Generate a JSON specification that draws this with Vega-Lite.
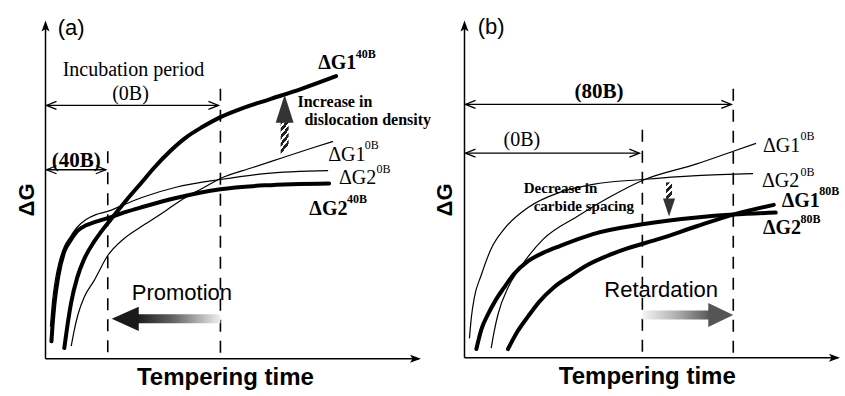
{
  "$schema": "https://vega.github.io/schema/vega-lite/v6.json",
  "width": 845,
  "height": 396,
  "autosize": {"type": "fit", "contains": "padding"},
  "padding": 0,
  "background": "white",
  "config": {"view": {"stroke": null}},
  "datasets": {
    "curves": [
      {"c": "a_G1_40B", "w": "thick", "x": 60, "y": 352}, {"c": "a_G1_40B", "w": "thick", "x": 63, "y": 330}, {"c": "a_G1_40B", "w": "thick", "x": 67, "y": 305}, {"c": "a_G1_40B", "w": "thick", "x": 73, "y": 280}, {"c": "a_G1_40B", "w": "thick", "x": 80, "y": 261}, {"c": "a_G1_40B", "w": "thick", "x": 90, "y": 243}, {"c": "a_G1_40B", "w": "thick", "x": 97, "y": 233}, {"c": "a_G1_40B", "w": "thick", "x": 107, "y": 220}, {"c": "a_G1_40B", "w": "thick", "x": 123, "y": 200}, {"c": "a_G1_40B", "w": "thick", "x": 140, "y": 180}, {"c": "a_G1_40B", "w": "thick", "x": 150, "y": 168}, {"c": "a_G1_40B", "w": "thick", "x": 167, "y": 150}, {"c": "a_G1_40B", "w": "thick", "x": 183, "y": 136}, {"c": "a_G1_40B", "w": "thick", "x": 200, "y": 125}, {"c": "a_G1_40B", "w": "thick", "x": 218, "y": 115}, {"c": "a_G1_40B", "w": "thick", "x": 240, "y": 106}, {"c": "a_G1_40B", "w": "thick", "x": 267, "y": 97}, {"c": "a_G1_40B", "w": "thick", "x": 300, "y": 86}, {"c": "a_G1_40B", "w": "thick", "x": 335, "y": 73},
      {"c": "a_G2_40B", "w": "thick", "x": 47, "y": 345}, {"c": "a_G2_40B", "w": "thick", "x": 48, "y": 330}, {"c": "a_G2_40B", "w": "thick", "x": 50, "y": 307}, {"c": "a_G2_40B", "w": "thick", "x": 54, "y": 278}, {"c": "a_G2_40B", "w": "thick", "x": 60, "y": 253}, {"c": "a_G2_40B", "w": "thick", "x": 66, "y": 242}, {"c": "a_G2_40B", "w": "thick", "x": 73, "y": 232}, {"c": "a_G2_40B", "w": "thick", "x": 82, "y": 226}, {"c": "a_G2_40B", "w": "thick", "x": 90, "y": 223}, {"c": "a_G2_40B", "w": "thick", "x": 103, "y": 219}, {"c": "a_G2_40B", "w": "thick", "x": 120, "y": 213}, {"c": "a_G2_40B", "w": "thick", "x": 140, "y": 207}, {"c": "a_G2_40B", "w": "thick", "x": 173, "y": 198}, {"c": "a_G2_40B", "w": "thick", "x": 218, "y": 189}, {"c": "a_G2_40B", "w": "thick", "x": 263, "y": 185}, {"c": "a_G2_40B", "w": "thick", "x": 328, "y": 183},
      {"c": "a_G2_0B", "w": "thin", "x": 46, "y": 330}, {"c": "a_G2_0B", "w": "thin", "x": 48, "y": 305}, {"c": "a_G2_0B", "w": "thin", "x": 51, "y": 282}, {"c": "a_G2_0B", "w": "thin", "x": 55, "y": 263}, {"c": "a_G2_0B", "w": "thin", "x": 60, "y": 248}, {"c": "a_G2_0B", "w": "thin", "x": 66, "y": 238}, {"c": "a_G2_0B", "w": "thin", "x": 73, "y": 228}, {"c": "a_G2_0B", "w": "thin", "x": 82, "y": 220}, {"c": "a_G2_0B", "w": "thin", "x": 92, "y": 215}, {"c": "a_G2_0B", "w": "thin", "x": 103, "y": 212}, {"c": "a_G2_0B", "w": "thin", "x": 120, "y": 205}, {"c": "a_G2_0B", "w": "thin", "x": 140, "y": 197}, {"c": "a_G2_0B", "w": "thin", "x": 173, "y": 187}, {"c": "a_G2_0B", "w": "thin", "x": 218, "y": 179}, {"c": "a_G2_0B", "w": "thin", "x": 263, "y": 173}, {"c": "a_G2_0B", "w": "thin", "x": 327, "y": 170},
      {"c": "a_G1_0B", "w": "thin", "x": 67, "y": 350}, {"c": "a_G1_0B", "w": "thin", "x": 70, "y": 334}, {"c": "a_G1_0B", "w": "thin", "x": 74, "y": 317}, {"c": "a_G1_0B", "w": "thin", "x": 80, "y": 300}, {"c": "a_G1_0B", "w": "thin", "x": 90, "y": 283}, {"c": "a_G1_0B", "w": "thin", "x": 104, "y": 257}, {"c": "a_G1_0B", "w": "thin", "x": 120, "y": 240}, {"c": "a_G1_0B", "w": "thin", "x": 140, "y": 226}, {"c": "a_G1_0B", "w": "thin", "x": 160, "y": 213}, {"c": "a_G1_0B", "w": "thin", "x": 180, "y": 199}, {"c": "a_G1_0B", "w": "thin", "x": 200, "y": 188}, {"c": "a_G1_0B", "w": "thin", "x": 218, "y": 178}, {"c": "a_G1_0B", "w": "thin", "x": 250, "y": 167}, {"c": "a_G1_0B", "w": "thin", "x": 280, "y": 157}, {"c": "a_G1_0B", "w": "thin", "x": 310, "y": 147}, {"c": "a_G1_0B", "w": "thin", "x": 332, "y": 140},
      {"c": "b_G2_0B", "w": "thin", "x": 470, "y": 342}, {"c": "b_G2_0B", "w": "thin", "x": 472, "y": 320}, {"c": "b_G2_0B", "w": "thin", "x": 475, "y": 300}, {"c": "b_G2_0B", "w": "thin", "x": 482, "y": 277}, {"c": "b_G2_0B", "w": "thin", "x": 492, "y": 250}, {"c": "b_G2_0B", "w": "thin", "x": 505, "y": 230}, {"c": "b_G2_0B", "w": "thin", "x": 529, "y": 208}, {"c": "b_G2_0B", "w": "thin", "x": 562, "y": 192}, {"c": "b_G2_0B", "w": "thin", "x": 595, "y": 184}, {"c": "b_G2_0B", "w": "thin", "x": 645, "y": 179}, {"c": "b_G2_0B", "w": "thin", "x": 700, "y": 175}, {"c": "b_G2_0B", "w": "thin", "x": 757, "y": 173},
      {"c": "b_G1_0B", "w": "thin", "x": 492, "y": 352}, {"c": "b_G1_0B", "w": "thin", "x": 495, "y": 335}, {"c": "b_G1_0B", "w": "thin", "x": 499, "y": 317}, {"c": "b_G1_0B", "w": "thin", "x": 509, "y": 290}, {"c": "b_G1_0B", "w": "thin", "x": 519, "y": 273}, {"c": "b_G1_0B", "w": "thin", "x": 545, "y": 240}, {"c": "b_G1_0B", "w": "thin", "x": 579, "y": 217}, {"c": "b_G1_0B", "w": "thin", "x": 612, "y": 197}, {"c": "b_G1_0B", "w": "thin", "x": 645, "y": 180}, {"c": "b_G1_0B", "w": "thin", "x": 700, "y": 163}, {"c": "b_G1_0B", "w": "thin", "x": 737, "y": 150}, {"c": "b_G1_0B", "w": "thin", "x": 760, "y": 142},
      {"c": "b_G2_80B", "w": "thick", "x": 477, "y": 353}, {"c": "b_G2_80B", "w": "thick", "x": 482, "y": 333}, {"c": "b_G2_80B", "w": "thick", "x": 489, "y": 317}, {"c": "b_G2_80B", "w": "thick", "x": 497, "y": 302}, {"c": "b_G2_80B", "w": "thick", "x": 505, "y": 290}, {"c": "b_G2_80B", "w": "thick", "x": 515, "y": 276}, {"c": "b_G2_80B", "w": "thick", "x": 529, "y": 263}, {"c": "b_G2_80B", "w": "thick", "x": 545, "y": 254}, {"c": "b_G2_80B", "w": "thick", "x": 562, "y": 247}, {"c": "b_G2_80B", "w": "thick", "x": 595, "y": 235}, {"c": "b_G2_80B", "w": "thick", "x": 645, "y": 225}, {"c": "b_G2_80B", "w": "thick", "x": 700, "y": 218}, {"c": "b_G2_80B", "w": "thick", "x": 737, "y": 215}, {"c": "b_G2_80B", "w": "thick", "x": 780, "y": 213},
      {"c": "b_G1_80B", "w": "thick", "x": 509, "y": 353}, {"c": "b_G1_80B", "w": "thick", "x": 518, "y": 336}, {"c": "b_G1_80B", "w": "thick", "x": 529, "y": 320}, {"c": "b_G1_80B", "w": "thick", "x": 541, "y": 304}, {"c": "b_G1_80B", "w": "thick", "x": 555, "y": 290}, {"c": "b_G1_80B", "w": "thick", "x": 572, "y": 278}, {"c": "b_G1_80B", "w": "thick", "x": 589, "y": 267}, {"c": "b_G1_80B", "w": "thick", "x": 608, "y": 258}, {"c": "b_G1_80B", "w": "thick", "x": 629, "y": 250}, {"c": "b_G1_80B", "w": "thick", "x": 662, "y": 240}, {"c": "b_G1_80B", "w": "thick", "x": 700, "y": 227}, {"c": "b_G1_80B", "w": "thick", "x": 737, "y": 215}, {"c": "b_G1_80B", "w": "thick", "x": 778, "y": 205}
    ],
    "segs": [
      {"k": "axis", "x": 41, "y": 363, "x2": 41, "y2": 20},
      {"k": "axis", "x": 41, "y": 363, "x2": 419, "y2": 363},
      {"k": "axis", "x": 465, "y": 362, "x2": 465, "y2": 20},
      {"k": "axis", "x": 465, "y": 362, "x2": 843, "y2": 362},
      {"k": "dash", "x": 104, "y": 150, "x2": 104, "y2": 363},
      {"k": "dash", "x": 218, "y": 86, "x2": 218, "y2": 363},
      {"k": "dash", "x": 645, "y": 128, "x2": 645, "y2": 362},
      {"k": "dash", "x": 737, "y": 86, "x2": 737, "y2": 362},
      {"k": "dim", "x": 42, "y": 103, "x2": 216, "y2": 103},
      {"k": "dim", "x": 42, "y": 169, "x2": 102, "y2": 169},
      {"k": "dim", "x": 466, "y": 102, "x2": 735, "y2": 102},
      {"k": "dim", "x": 466, "y": 152, "x2": 642, "y2": 152}
    ],
    "heads": [
      {"k": "dimL", "x": 42, "y": 103}, {"k": "dimL", "x": 42, "y": 169}, {"k": "dimL", "x": 466, "y": 102}, {"k": "dimL", "x": 466, "y": 152},
      {"k": "dimR", "x": 216, "y": 103}, {"k": "dimR", "x": 102, "y": 169}, {"k": "dimR", "x": 735, "y": 102}, {"k": "dimR", "x": 642, "y": 152},
      {"k": "axU", "x": 41, "y": 16}, {"k": "axU", "x": 465, "y": 16},
      {"k": "axR", "x": 421, "y": 363}, {"k": "axR", "x": 845, "y": 362},
      {"k": "bigL", "x": 108, "y": 322},
      {"k": "bigR", "x": 737, "y": 318},
      {"k": "up", "x": 283, "y": 92},
      {"k": "down", "x": 672, "y": 217}
    ],
    "shafts": [
      {"k": "promo", "x": 133, "x2": 218, "y": 322},
      {"k": "retard", "x": 645, "x2": 714, "y": 318},
      {"k": "up", "x": 283, "y": 119, "y2": 153},
      {"k": "down", "x": 672, "y": 182, "y2": 202}
    ],
    "labels": [
      {"s": "sans", "t": "(a)", "x": 67, "y": 24},
      {"s": "sans", "t": "(b)", "x": 492, "y": 23},
      {"s": "sans", "t": "Promotion", "x": 179, "y": 295},
      {"s": "sans", "t": "Retardation", "x": 664, "y": 292},
      {"s": "axt", "t": "Tempering time", "x": 223, "y": 383},
      {"s": "axt", "t": "Tempering time", "x": 650, "y": 382},
      {"s": "dg", "t": "ΔG", "x": 22, "y": 200},
      {"s": "dg", "t": "ΔG", "x": 445, "y": 200},
      {"s": "serifC", "t": "Incubation period", "x": 130, "y": 67},
      {"s": "serifC", "t": "(0B)", "x": 127, "y": 91},
      {"s": "serifC", "t": "(0B)", "x": 523, "y": 138},
      {"s": "serifL", "t": "ΔG1", "x": 327, "y": 160},
      {"s": "serifL", "t": "ΔG2", "x": 338, "y": 184},
      {"s": "serifL", "t": "ΔG1", "x": 767, "y": 151},
      {"s": "serifL", "t": "ΔG2", "x": 766, "y": 187},
      {"s": "serifSup", "t": "0B", "x": 364, "y": 148},
      {"s": "serifSup", "t": "0B", "x": 376, "y": 172},
      {"s": "serifSup", "t": "0B", "x": 805, "y": 139},
      {"s": "serifSup", "t": "0B", "x": 805, "y": 175},
      {"s": "boldC", "t": "(40B)", "x": 72, "y": 160},
      {"s": "boldC", "t": "(80B)", "x": 601, "y": 89},
      {"s": "boldL", "t": "ΔG1", "x": 317, "y": 66},
      {"s": "boldL", "t": "ΔG2", "x": 308, "y": 215},
      {"s": "boldL", "t": "ΔG1", "x": 786, "y": 207},
      {"s": "boldL", "t": "ΔG2", "x": 767, "y": 235},
      {"s": "boldSup", "t": "40B", "x": 355, "y": 54},
      {"s": "boldSup", "t": "40B", "x": 346, "y": 203},
      {"s": "boldSup", "t": "80B", "x": 824, "y": 195},
      {"s": "boldSup", "t": "80B", "x": 805, "y": 224},
      {"s": "note18", "t": "Increase in", "x": 296, "y": 100},
      {"s": "note18", "t": "dislocation density", "x": 303, "y": 118},
      {"s": "note17", "t": "Decrease in", "x": 525, "y": 188},
      {"s": "note17", "t": "carbide spacing", "x": 535, "y": 206}
    ]
  },
  "encoding": {
    "x": {"field": "x", "type": "quantitative", "scale": {"domain": [0, 845], "nice": false, "zero": false}, "axis": null},
    "y": {"field": "y", "type": "quantitative", "scale": {"domain": [0, 396], "reverse": true, "nice": false, "zero": false}, "axis": null}
  },
  "layer": [
    {
      "data": {"name": "segs"},
      "transform": [{"filter": "datum.k === 'dash'"}],
      "mark": {"type": "rule", "color": "black", "strokeWidth": 1.6, "strokeDash": [12, 9]},
      "encoding": {"x2": {"field": "x2"}, "y2": {"field": "y2"}}
    },
    {
      "data": {"name": "segs"},
      "transform": [{"filter": "datum.k === 'axis'"}],
      "mark": {"type": "rule", "color": "black", "strokeWidth": 1.5},
      "encoding": {"x2": {"field": "x2"}, "y2": {"field": "y2"}}
    },
    {
      "data": {"name": "segs"},
      "transform": [{"filter": "datum.k === 'dim'"}],
      "mark": {"type": "rule", "color": "black", "strokeWidth": 1.3},
      "encoding": {"x2": {"field": "x2"}, "y2": {"field": "y2"}}
    },
    {
      "data": {"name": "curves"},
      "transform": [{"filter": "datum.w === 'thin'"}],
      "mark": {"type": "line", "interpolate": "monotone", "color": "black", "strokeWidth": 1.2},
      "encoding": {"detail": {"field": "c", "type": "nominal"}}
    },
    {
      "data": {"name": "curves"},
      "transform": [{"filter": "datum.w === 'thick'"}],
      "mark": {"type": "line", "interpolate": "monotone", "color": "black", "strokeWidth": 4, "strokeCap": "round"},
      "encoding": {"detail": {"field": "c", "type": "nominal"}}
    },
    {
      "data": {"name": "shafts"},
      "transform": [{"filter": "datum.k === 'promo'"}],
      "mark": {"type": "bar", "orient": "horizontal", "height": 9,
        "fill": {"gradient": "linear", "x1": 0, "y1": 0, "x2": 1, "y2": 0, "stops": [{"offset": 0, "color": "#1a1a1a"}, {"offset": 0.45, "color": "#666666"}, {"offset": 1, "color": "#f0f0f0"}]}},
      "encoding": {"x2": {"field": "x2"}}
    },
    {
      "data": {"name": "shafts"},
      "transform": [{"filter": "datum.k === 'retard'"}],
      "mark": {"type": "bar", "orient": "horizontal", "height": 9,
        "fill": {"gradient": "linear", "x1": 0, "y1": 0, "x2": 1, "y2": 0, "stops": [{"offset": 0, "color": "#f4f4f4"}, {"offset": 0.5, "color": "#b0b0b0"}, {"offset": 1, "color": "#555555"}]}},
      "encoding": {"x2": {"field": "x2"}}
    },
    {
      "data": {"name": "shafts"},
      "transform": [{"filter": "datum.k === 'up'"}],
      "mark": {"type": "bar", "orient": "vertical", "width": 8,
        "fill": {"gradient": "linear", "x1": 0, "y1": 0, "x2": 0.3, "y2": 1, "stops": [{"offset": 0, "color": "#222"}, {"offset": 0.12, "color": "#222"}, {"offset": 0.12, "color": "#fff"}, {"offset": 0.2, "color": "#fff"}, {"offset": 0.2, "color": "#222"}, {"offset": 0.32, "color": "#222"}, {"offset": 0.32, "color": "#fff"}, {"offset": 0.4, "color": "#fff"}, {"offset": 0.4, "color": "#222"}, {"offset": 0.52, "color": "#222"}, {"offset": 0.52, "color": "#fff"}, {"offset": 0.6, "color": "#fff"}, {"offset": 0.6, "color": "#222"}, {"offset": 0.72, "color": "#222"}, {"offset": 0.72, "color": "#fff"}, {"offset": 0.8, "color": "#fff"}, {"offset": 0.8, "color": "#222"}, {"offset": 0.92, "color": "#222"}, {"offset": 0.92, "color": "#fff"}, {"offset": 1, "color": "#fff"}]}},
      "encoding": {"y2": {"field": "y2"}}
    },
    {
      "data": {"name": "shafts"},
      "transform": [{"filter": "datum.k === 'down'"}],
      "mark": {"type": "bar", "orient": "vertical", "width": 6,
        "fill": {"gradient": "linear", "x1": 0, "y1": 0, "x2": 0.3, "y2": 1, "stops": [{"offset": 0, "color": "#222"}, {"offset": 0.2, "color": "#222"}, {"offset": 0.2, "color": "#fff"}, {"offset": 0.33, "color": "#fff"}, {"offset": 0.33, "color": "#222"}, {"offset": 0.53, "color": "#222"}, {"offset": 0.53, "color": "#fff"}, {"offset": 0.66, "color": "#fff"}, {"offset": 0.66, "color": "#222"}, {"offset": 0.86, "color": "#222"}, {"offset": 0.86, "color": "#fff"}, {"offset": 1, "color": "#fff"}]}},
      "encoding": {"y2": {"field": "y2"}}
    },
    {
      "data": {"name": "heads"},
      "transform": [{"filter": "datum.k === 'dimL'"}],
      "mark": {"type": "point", "shape": "M 2 -0.8 L 0 0 L 2 0.8", "size": 100, "filled": false, "stroke": "black", "strokeWidth": 1.3, "opacity": 1}
    },
    {
      "data": {"name": "heads"},
      "transform": [{"filter": "datum.k === 'dimR'"}],
      "mark": {"type": "point", "shape": "M -2 -0.8 L 0 0 L -2 0.8", "size": 100, "filled": false, "stroke": "black", "strokeWidth": 1.3, "opacity": 1}
    },
    {
      "data": {"name": "heads"},
      "transform": [{"filter": "datum.k === 'axU'"}],
      "mark": {"type": "point", "shape": "M 0 0 L 0.8 2.2 L 0 1.7 L -0.8 2.2 Z", "size": 100, "filled": true, "fill": "black", "strokeWidth": 0, "opacity": 1}
    },
    {
      "data": {"name": "heads"},
      "transform": [{"filter": "datum.k === 'axR'"}],
      "mark": {"type": "point", "shape": "M 0 0 L -2.2 -0.8 L -1.7 0 L -2.2 0.8 Z", "size": 100, "filled": true, "fill": "black", "strokeWidth": 0, "opacity": 1}
    },
    {
      "data": {"name": "heads"},
      "transform": [{"filter": "datum.k === 'bigL'"}],
      "mark": {"type": "point", "shape": "M 0 0 L 2 -0.9 L 2 0.9 Z", "size": 729, "filled": true, "fill": "#1a1a1a", "strokeWidth": 0, "opacity": 1}
    },
    {
      "data": {"name": "heads"},
      "transform": [{"filter": "datum.k === 'bigR'"}],
      "mark": {"type": "point", "shape": "M 0 0 L -2 -0.96 L -2 0.96 Z", "size": 625, "filled": true, "fill": "#555555", "strokeWidth": 0, "opacity": 1}
    },
    {
      "data": {"name": "heads"},
      "transform": [{"filter": "datum.k === 'up'"}],
      "mark": {"type": "point", "shape": "M 0 0 L 0.64 2 L -0.64 2 Z", "size": 784, "filled": true, "fill": "#333333", "strokeWidth": 0, "opacity": 1}
    },
    {
      "data": {"name": "heads"},
      "transform": [{"filter": "datum.k === 'down'"}],
      "mark": {"type": "point", "shape": "M 0 0 L 0.67 -2 L -0.67 -2 Z", "size": 324, "filled": true, "fill": "#333333", "strokeWidth": 0, "opacity": 1}
    },
    {
      "data": {"name": "labels"},
      "transform": [{"filter": "datum.s === 'sans'"}],
      "mark": {"type": "text", "font": "Liberation Sans", "fontSize": 22, "align": "center", "baseline": "middle", "color": "black"},
      "encoding": {"text": {"field": "t"}}
    },
    {
      "data": {"name": "labels"},
      "transform": [{"filter": "datum.s === 'axt'"}],
      "mark": {"type": "text", "font": "Liberation Sans", "fontSize": 24, "fontWeight": "bold", "align": "center", "baseline": "middle", "color": "black"},
      "encoding": {"text": {"field": "t"}}
    },
    {
      "data": {"name": "labels"},
      "transform": [{"filter": "datum.s === 'dg'"}],
      "mark": {"type": "text", "font": "Liberation Sans", "fontSize": 22, "fontWeight": "bold", "align": "center", "baseline": "middle", "angle": 270, "color": "black"},
      "encoding": {"text": {"field": "t"}}
    },
    {
      "data": {"name": "labels"},
      "transform": [{"filter": "datum.s === 'serifC'"}],
      "mark": {"type": "text", "font": "Liberation Serif", "fontSize": 20, "align": "center", "baseline": "middle", "color": "black"},
      "encoding": {"text": {"field": "t"}}
    },
    {
      "data": {"name": "labels"},
      "transform": [{"filter": "datum.s === 'serifL'"}],
      "mark": {"type": "text", "font": "Liberation Serif", "fontSize": 20, "align": "left", "baseline": "alphabetic", "color": "black"},
      "encoding": {"text": {"field": "t"}}
    },
    {
      "data": {"name": "labels"},
      "transform": [{"filter": "datum.s === 'serifSup'"}],
      "mark": {"type": "text", "font": "Liberation Serif", "fontSize": 12, "align": "left", "baseline": "alphabetic", "color": "black"},
      "encoding": {"text": {"field": "t"}}
    },
    {
      "data": {"name": "labels"},
      "transform": [{"filter": "datum.s === 'boldC'"}],
      "mark": {"type": "text", "font": "Liberation Serif", "fontSize": 21, "fontWeight": "bold", "align": "center", "baseline": "middle", "color": "black"},
      "encoding": {"text": {"field": "t"}}
    },
    {
      "data": {"name": "labels"},
      "transform": [{"filter": "datum.s === 'boldL'"}],
      "mark": {"type": "text", "font": "Liberation Serif", "fontSize": 20, "fontWeight": "bold", "align": "left", "baseline": "alphabetic", "color": "black"},
      "encoding": {"text": {"field": "t"}}
    },
    {
      "data": {"name": "labels"},
      "transform": [{"filter": "datum.s === 'boldSup'"}],
      "mark": {"type": "text", "font": "Liberation Serif", "fontSize": 12, "fontWeight": "bold", "align": "left", "baseline": "alphabetic", "color": "black"},
      "encoding": {"text": {"field": "t"}}
    },
    {
      "data": {"name": "labels"},
      "transform": [{"filter": "datum.s === 'note18'"}],
      "mark": {"type": "text", "font": "Liberation Serif", "fontSize": 16, "fontWeight": "bold", "align": "left", "baseline": "middle", "color": "black"},
      "encoding": {"text": {"field": "t"}}
    },
    {
      "data": {"name": "labels"},
      "transform": [{"filter": "datum.s === 'note17'"}],
      "mark": {"type": "text", "font": "Liberation Serif", "fontSize": 15, "fontWeight": "bold", "align": "left", "baseline": "middle", "color": "black"},
      "encoding": {"text": {"field": "t"}}
    }
  ]
}
